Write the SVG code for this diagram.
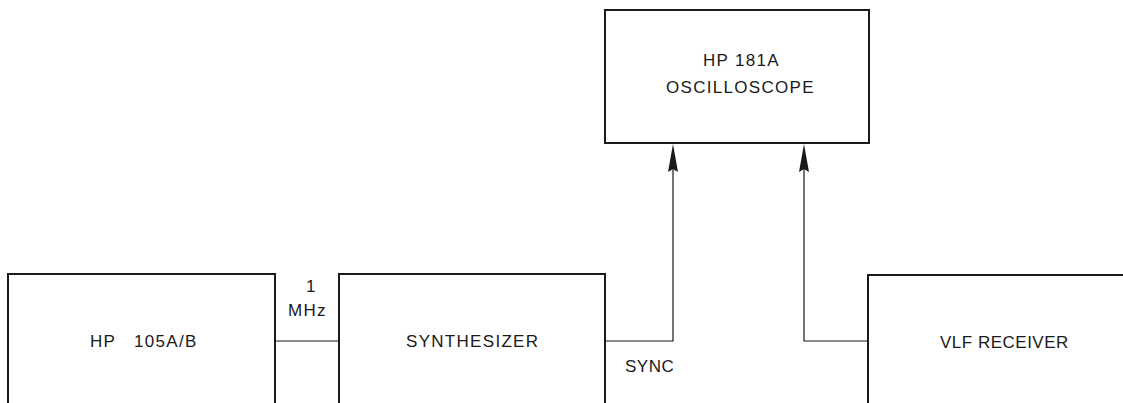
<svg xmlns="http://www.w3.org/2000/svg" width="1123" height="403" viewBox="0 0 1123 403">
<defs>
<style>
.box{fill:none;stroke:#1a1a1a;stroke-width:2}
.wire{fill:none;stroke:#1a1a1a;stroke-width:1.2}
.arr{fill:#1a1a1a;stroke:none}
text{font-family:"Liberation Sans",Arial,sans-serif;font-size:17px;letter-spacing:1.3px;fill:#1a1a1a}
</style>
</defs>
<rect width="1123" height="403" fill="#ffffff"/>
<g id="hp105">
<rect class="box" x="8" y="274" width="267" height="160"/>
<text x="90" y="347" xml:space="preserve">HP   105A/B</text>
</g>
<g id="synth">
<rect class="box" x="339" y="274" width="266" height="160"/>
<text x="406" y="347">SYNTHESIZER</text>
</g>
<g id="scope">
<rect class="box" x="605" y="10" width="264" height="133"/>
<text x="703" y="66">HP 181A</text>
<text x="666" y="93">OSCILLOSCOPE</text>
</g>
<g id="vlf">
<rect class="box" x="868" y="275" width="280" height="160"/>
<text x="940" y="348" style="letter-spacing:0.5px">VLF RECEIVER</text>
</g>
<g id="connectors">
<line class="wire" x1="275" y1="341" x2="339" y2="341"/>
<text x="306" y="292">1</text>
<text x="288" y="316">MHz</text>
<polyline class="wire" points="605,341 673,341 673,160"/>
<path class="arr" d="M673,144 L678,172 L673,169 L668,172 Z"/>
<text x="625" y="372" style="letter-spacing:0.5px">SYNC</text>
<polyline class="wire" points="868,341 804,341 804,160"/>
<path class="arr" d="M804,144 L809,172 L804,169 L799,172 Z"/>
</g>
</svg>
